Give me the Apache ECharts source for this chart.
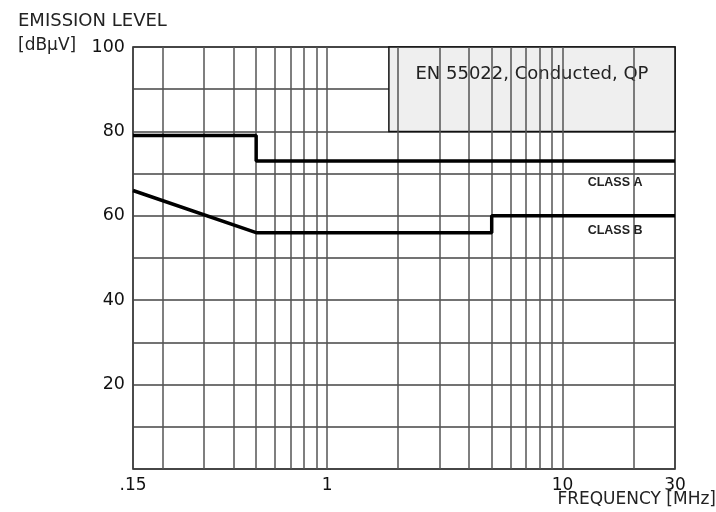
<!DOCTYPE html>
<html>
<head>
<meta charset="utf-8">
<script src="https://cdn.jsdelivr.net/npm/echarts@6/dist/echarts.min.js"></script>
<style>
  html, body { margin: 0; padding: 0; background: #fff; }
  #chart { width: 716px; height: 512px; }
</style>
</head>
<body>
<div id="chart"></div>
<script>
// limit lines (frequency in MHz, level in dBµV)
const classAFreq = [0.15, 0.5, 0.5, 30];
const classALevel = [79, 79, 73, 73];
const classBFreq = [0.15, 0.5, 5, 5, 30];
const classBLevel = [66, 56, 56, 60, 60];

// vertical grid lines of the log paper
const gridFreqs = [0.2, 0.3, 0.4, 0.5, 0.6, 0.7, 0.8, 0.9, 1, 2, 3, 4, 5, 6, 7, 8, 9, 10, 20];

// label anchors
const classLabels = [
  { name: 'CLASS A', freq: 16.7, level: 67.8 },
  { name: 'CLASS B', freq: 16.7, level: 56.4 }
];
const noteText = 'EN 55022, Conducted, QP';
const noteBox = { freqFrom: 1.83, freqTo: 30, levelFrom: 80, levelTo: 100 };

const FONT = 'DejaVu Sans';

const myChart = echarts.init(document.getElementById('chart'));

function pairs(xs, ys) {
  return xs.map((x, i) => [x, ys[i]]);
}

function classLabel(item) {
  return {
    symbol: 'circle',
    symbolSize: 0,
    label: {
      show: true,
      formatter: '{b}',
      color: '#222',
      fontFamily: 'Liberation Sans',
      fontWeight: 'bold',
      fontSize: 12.5
    },
    data: [{ name: item.name, coord: [item.freq, item.level] }]
  };
}

const option = {
  animation: false,
  backgroundColor: '#fff',
  textStyle: { fontFamily: FONT },
  grid: {
    left: 133,
    right: 41,
    top: 47,
    bottom: 43,
    show: true,
    borderColor: '#111',
    borderWidth: 1.5,
    backgroundColor: 'transparent'
  },
  graphic: [
    {
      type: 'text', left: 18, top: 12,
      style: { text: 'EMISSION LEVEL', fontFamily: FONT, fontSize: 18, fill: '#222' }
    },
    {
      type: 'text', left: 18, top: 37,
      style: { text: '[dBµV]', fontFamily: FONT, fontSize: 17, fill: '#222' }
    },
    {
      type: 'text', right: 0, top: 491,
      style: { text: 'FREQUENCY [MHz]', fontFamily: FONT, fontSize: 17, fill: '#222' }
    }
  ],
  xAxis: {
    type: 'log',
    logBase: 10,
    min: 0.15,
    max: 30,
    axisLine: { show: false },
    axisTick: { show: false },
    splitLine: { show: false },
    axisLabel: {
      color: '#111',
      fontFamily: FONT,
      fontSize: 17,
      margin: 8,
      showMinLabel: true,
      showMaxLabel: true,
      formatter: function (v) {
        const r = Math.round(v * 100) / 100;
        return String(r).replace(/^0\./, '.');
      }
    }
  },
  yAxis: {
    type: 'value',
    min: 0,
    max: 100,
    interval: 10,
    axisLine: { show: false },
    axisTick: { show: false },
    splitLine: { show: true, lineStyle: { color: '#444', width: 1.5 } },
    axisLabel: {
      color: '#111',
      fontFamily: FONT,
      fontSize: 17.5,
      margin: 8,
      formatter: function (v) {
        return v > 0 && v % 20 === 0 ? String(v) : '';
      }
    }
  },
  series: [
    {
      name: 'grid',
      type: 'line',
      data: [],
      silent: true,
      markLine: {
        silent: true,
        symbol: 'none',
        label: { show: false },
        lineStyle: { color: '#555', width: 1.5, type: 'solid' },
        data: gridFreqs.map(f => ({ xAxis: f }))
      },
      markArea: {
        silent: true,
        itemStyle: { color: '#efefef', borderColor: '#111', borderWidth: 1.5 },
        label: {
          show: true,
          position: 'insideTop',
          distance: 19,
          color: '#222',
          fontFamily: FONT,
          fontSize: 18
        },
        data: [[
          { name: noteText, coord: [noteBox.freqFrom, noteBox.levelTo] },
          { coord: [noteBox.freqTo, noteBox.levelFrom] }
        ]]
      },
      z: 1
    },
    {
      name: 'Class A',
      type: 'line',
      data: pairs(classAFreq, classALevel),
      symbol: 'none',
      lineStyle: { color: '#000', width: 3.5 },
      z: 5,
      markPoint: classLabel(classLabels[0])
    },
    {
      name: 'Class B',
      type: 'line',
      data: pairs(classBFreq, classBLevel),
      symbol: 'none',
      lineStyle: { color: '#000', width: 3.5 },
      z: 5,
      markPoint: classLabel(classLabels[1])
    }
  ]
};

myChart.setOption(option);
</script>
</body>
</html>
